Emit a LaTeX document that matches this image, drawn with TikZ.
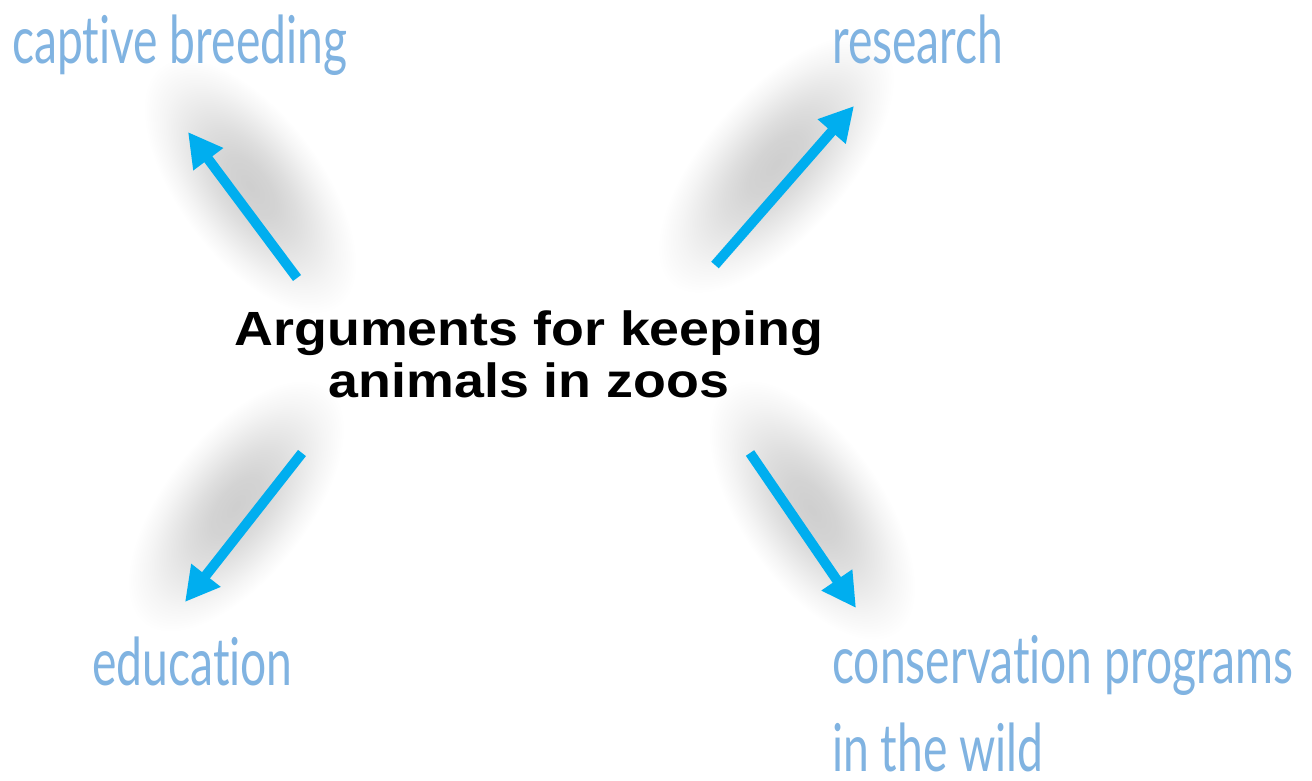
\documentclass[tikz,border=0pt]{standalone}
\usepackage{fontspec}
\setmainfont{Liberation Sans}
\newfontfamily\handfont[FakeStretch=0.7, Ligatures=NoCommon]{Lato}
\newfontfamily\titlefont[FakeStretch=1.12]{Liberation Sans}
\usetikzlibrary{arrows.meta}
\definecolor{arrowblue}{HTML}{00AEEF}
\definecolor{labelblue}{HTML}{80B3E1}
\pgfdeclareradialshading{glow}{\pgfpoint{0bp}{0bp}}{color(0bp)=(black!19); color(6bp)=(black!17); color(11bp)=(black!13); color(16bp)=(black!8); color(20bp)=(black!4); color(25bp)=(white); color(50bp)=(white)}
\tikzset{
  label/.style={text=labelblue, font=\handfont\fontsize{66}{88}\selectfont, inner sep=0pt, anchor=base west, align=left},
  title/.style={font=\titlefont\bfseries\fontsize{48}{52}\selectfont, align=center, inner sep=0pt},
  bigarrow/.style={draw=arrowblue, line width=10pt, -{Triangle[length=34pt, width=35pt]}},
}
\newcommand{\shadowglow}[5]{%
  \begin{scope}[transform canvas={shift={(#1,#2)}, rotate=#3}]
    \shade[shading=glow] (0,0) ellipse [x radius=#4, y radius=#5];
  \end{scope}}
\begin{document}
\begin{tikzpicture}[x=1pt,y=-1pt]
\useasboundingbox (0,0) rectangle (1312,780);
\fill[white] (0,0) rectangle (1312,780);
% shadows
\shadowglow{250}{186}{126.7}{150}{72}
\shadowglow{776}{164}{48.8}{160}{72}
\shadowglow{236}{506}{51.9}{150}{72}
\shadowglow{812}{510}{-55.6}{150}{72}
% title
\node[title, anchor=base] (t) at (529,397) {Arguments for keeping\\animals in zoos};
% labels
\node[label] (cb) at (12,63) {captive breeding};
\node[label] (rs) at (832,63) {research};
\node[label] (ed) at (92,685) {education};
\node[label] (cp) at (832,771) {conservation programs\\in the wild};
% arrows
\coordinate (a1s) at (297,278); \coordinate (a1e) at (188,132);
\coordinate (a2s) at (715,265); \coordinate (a2e) at (854,106);
\coordinate (a3s) at (302,453); \coordinate (a3e) at (185,602);
\coordinate (a4s) at (750,453); \coordinate (a4e) at (856,608);
\draw[bigarrow] (a1s) -- (a1e);
\draw[bigarrow] (a2s) -- (a2e);
\draw[bigarrow] (a3s) -- (a3e);
\draw[bigarrow] (a4s) -- (a4e);
\end{tikzpicture}
\end{document}
